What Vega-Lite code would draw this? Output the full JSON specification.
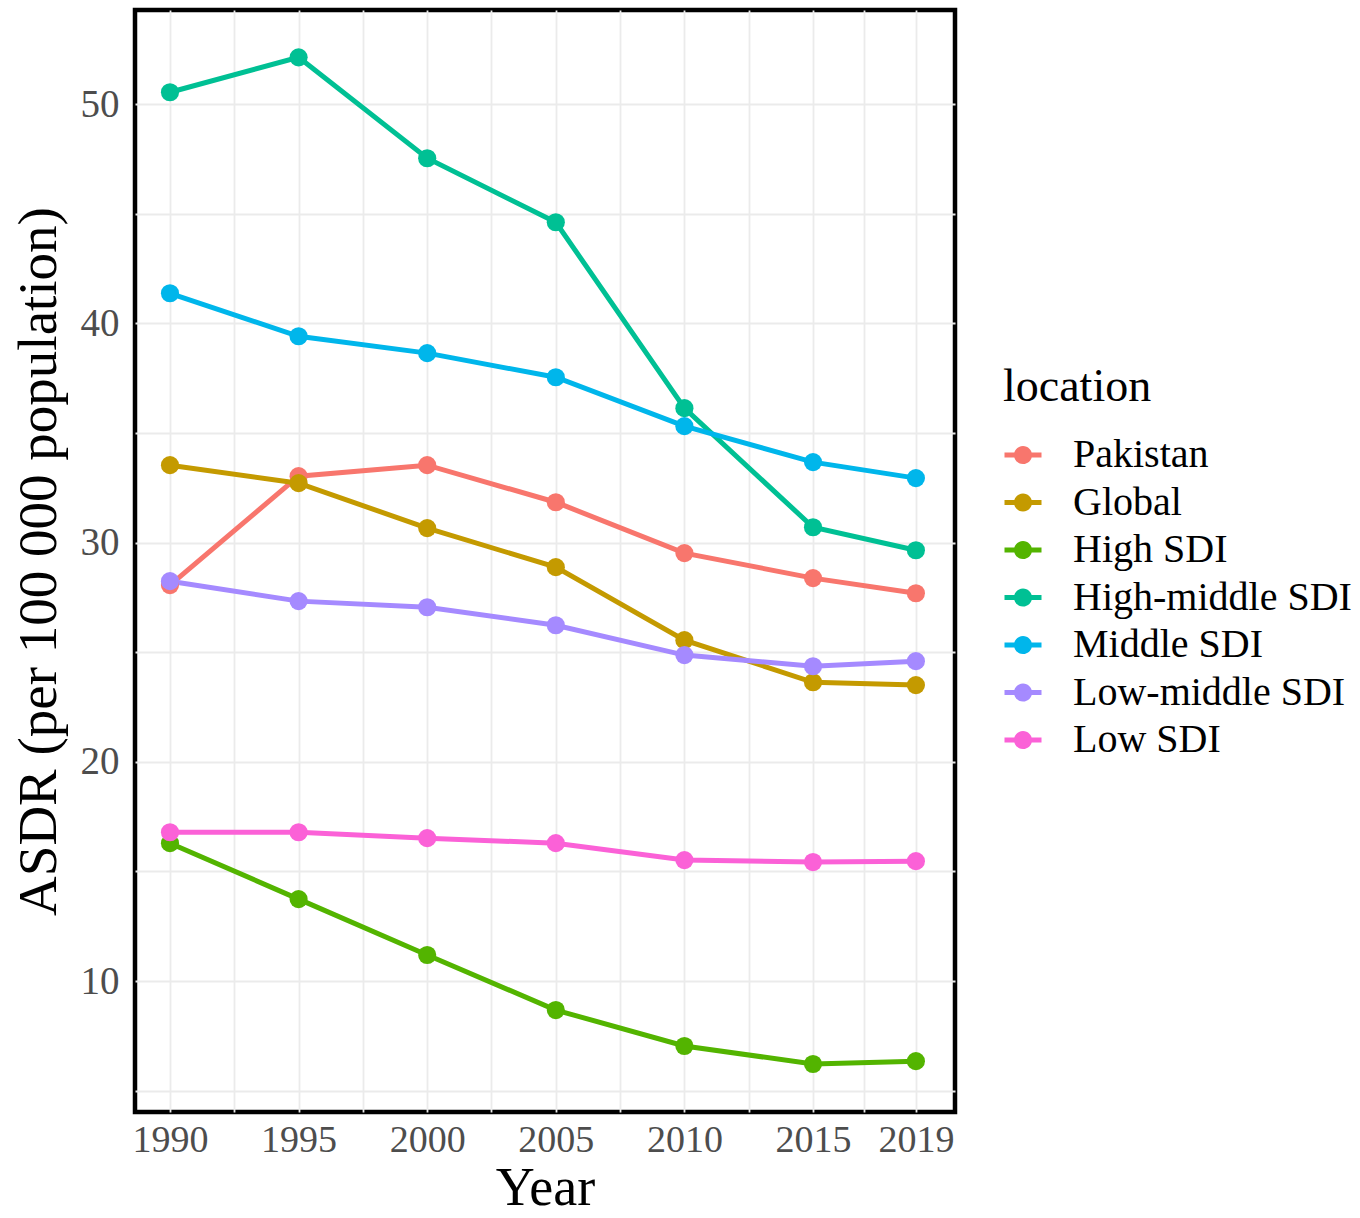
{
  "$schema": "https://vega.github.io/schema/vega-lite/v6.json",
  "width": 820,
  "height": 1102,
  "autosize": {"type": "none"},
  "padding": {"left": 135, "top": 10, "right": 405, "bottom": 106},
  "background": "white",
  "config": {
    "font": "Liberation Serif",
    "view": {"stroke": "black", "strokeWidth": 4.5},
    "axis": {
      "gridColor": "#EBEBEB",
      "gridWidth": 1.8,
      "ticks": false,
      "domain": false,
      "labelFont": "Liberation Serif",
      "labelFontSize": 39,
      "labelColor": "#4D4D4D",
      "titleFont": "Liberation Serif",
      "titleColor": "black",
      "titleFontWeight": "normal",
      "titleFontSize": 55,
      "labelFlush": false,
      "labelOverlap": false
    },
    "legend": {
      "titleFont": "Liberation Serif",
      "labelFont": "Liberation Serif",
      "titleFontWeight": "normal"
    }
  },
  "data": {
    "values": [
      {"location": "Pakistan", "year": 1990, "asdr": 28.06},
      {"location": "Pakistan", "year": 1995, "asdr": 33.03},
      {"location": "Pakistan", "year": 2000, "asdr": 33.53},
      {"location": "Pakistan", "year": 2005, "asdr": 31.84},
      {"location": "Pakistan", "year": 2010, "asdr": 29.52},
      {"location": "Pakistan", "year": 2015, "asdr": 28.38},
      {"location": "Pakistan", "year": 2019, "asdr": 27.69},
      {"location": "Global", "year": 1990, "asdr": 33.53},
      {"location": "Global", "year": 1995, "asdr": 32.71},
      {"location": "Global", "year": 2000, "asdr": 30.66},
      {"location": "Global", "year": 2005, "asdr": 28.88},
      {"location": "Global", "year": 2010, "asdr": 25.55},
      {"location": "Global", "year": 2015, "asdr": 23.63},
      {"location": "Global", "year": 2019, "asdr": 23.5},
      {"location": "High SDI", "year": 1990, "asdr": 16.29},
      {"location": "High SDI", "year": 1995, "asdr": 13.74},
      {"location": "High SDI", "year": 2000, "asdr": 11.19},
      {"location": "High SDI", "year": 2005, "asdr": 8.68},
      {"location": "High SDI", "year": 2010, "asdr": 7.04},
      {"location": "High SDI", "year": 2015, "asdr": 6.22},
      {"location": "High SDI", "year": 2019, "asdr": 6.35},
      {"location": "High-middle SDI", "year": 1990, "asdr": 50.54},
      {"location": "High-middle SDI", "year": 1995, "asdr": 52.13},
      {"location": "High-middle SDI", "year": 2000, "asdr": 47.53},
      {"location": "High-middle SDI", "year": 2005, "asdr": 44.61},
      {"location": "High-middle SDI", "year": 2010, "asdr": 36.13},
      {"location": "High-middle SDI", "year": 2015, "asdr": 30.7},
      {"location": "High-middle SDI", "year": 2019, "asdr": 29.65},
      {"location": "Middle SDI", "year": 1990, "asdr": 41.37},
      {"location": "Middle SDI", "year": 1995, "asdr": 39.41},
      {"location": "Middle SDI", "year": 2000, "asdr": 38.64},
      {"location": "Middle SDI", "year": 2005, "asdr": 37.54},
      {"location": "Middle SDI", "year": 2010, "asdr": 35.31},
      {"location": "Middle SDI", "year": 2015, "asdr": 33.67},
      {"location": "Middle SDI", "year": 2019, "asdr": 32.94},
      {"location": "Low-middle SDI", "year": 1990, "asdr": 28.24},
      {"location": "Low-middle SDI", "year": 1995, "asdr": 27.33},
      {"location": "Low-middle SDI", "year": 2000, "asdr": 27.05},
      {"location": "Low-middle SDI", "year": 2005, "asdr": 26.23},
      {"location": "Low-middle SDI", "year": 2010, "asdr": 24.87},
      {"location": "Low-middle SDI", "year": 2015, "asdr": 24.36},
      {"location": "Low-middle SDI", "year": 2019, "asdr": 24.59},
      {"location": "Low SDI", "year": 1990, "asdr": 16.79},
      {"location": "Low SDI", "year": 1995, "asdr": 16.79},
      {"location": "Low SDI", "year": 2000, "asdr": 16.52},
      {"location": "Low SDI", "year": 2005, "asdr": 16.29},
      {"location": "Low SDI", "year": 2010, "asdr": 15.52},
      {"location": "Low SDI", "year": 2015, "asdr": 15.43},
      {"location": "Low SDI", "year": 2019, "asdr": 15.47}
    ]
  },
  "encoding": {
    "x": {
      "field": "year",
      "type": "quantitative",
      "title": "Year",
      "scale": {"domain": [1988.64, 2020.52], "nice": false, "zero": false},
      "axis": {
        "values": [1990, 1992.5, 1995, 1997.5, 2000, 2002.5, 2005, 2007.5, 2010, 2012.5, 2015, 2017, 2019],
        "format": "d",
        "labelExpr": "(datum.value == 2017 || datum.value % 5 == 2.5) ? '' : datum.label",
        "labelFontSize": 38,
        "labelPadding": 9,
        "titlePadding": 2,
        "titleFontSize": 54
      }
    },
    "y": {
      "field": "asdr",
      "type": "quantitative",
      "title": "ASDR (per 100 000 population)",
      "scale": {"domain": [4.03, 54.29], "nice": false, "zero": false},
      "axis": {
        "values": [5, 10, 15, 20, 25, 30, 35, 40, 45, 50],
        "labelExpr": "datum.value % 10 == 0 ? datum.label : ''",
        "labelPadding": 16,
        "titlePadding": 13
      }
    },
    "color": {
      "field": "location",
      "type": "nominal",
      "scale": {
        "domain": ["Pakistan", "Global", "High SDI", "High-middle SDI", "Middle SDI", "Low-middle SDI", "Low SDI"],
        "range": ["#F8766D", "#C49A00", "#53B400", "#00C094", "#00B6EB", "#A58AFF", "#FB61D7"]
      },
      "legend": {
        "title": "location",
        "orient": "none",
        "legendX": 868,
        "legendY": 355,
        "titleFontSize": 46,
        "titleColor": "black",
        "titlePadding": 24,
        "labelFontSize": 40,
        "labelColor": "black",
        "labelLimit": 500,
        "labelOffset": 30,
        "rowPadding": 7.5,
        "symbolType": "M-1,-0.13H1V0.13H-1Z M-0.49,0A0.49,0.49 0 1,1 0.49,0A0.49,0.49 0 1,1 -0.49,0Z",
        "symbolSize": 1369,
        "symbolStrokeWidth": 0,
        "symbolOpacity": 1
      }
    }
  },
  "layer": [
    {"mark": {"type": "line", "strokeWidth": 5}},
    {"mark": {"type": "point", "filled": true, "size": 330, "opacity": 1}}
  ]
}
